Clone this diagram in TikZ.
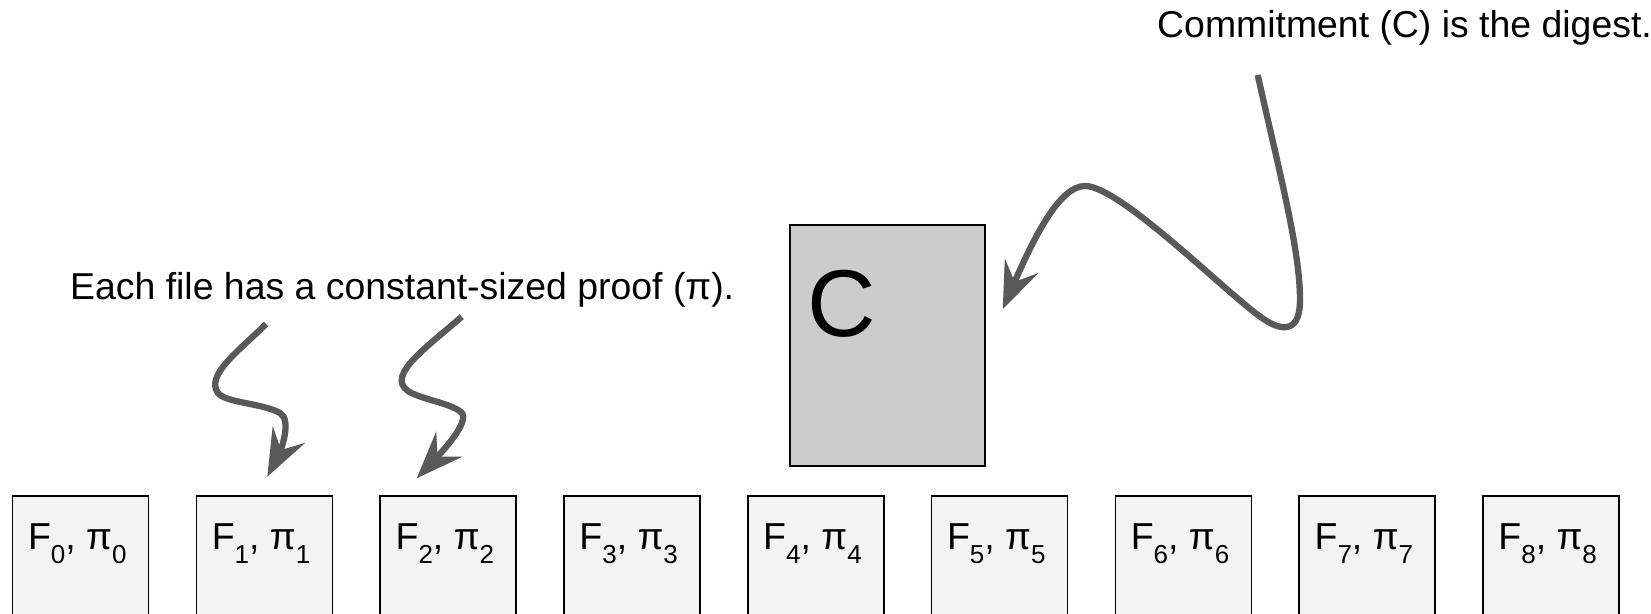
\documentclass[tikz,border=0pt]{standalone}
\usepackage{fontspec}
\setmainfont{Liberation Sans}
\usetikzlibrary{arrows.meta}
\definecolor{arrowgray}{HTML}{595959}
\definecolor{filefill}{HTML}{F3F3F3}
\definecolor{cfill}{HTML}{CCCCCC}
\newcommand\fsub[1]{\raisebox{-14pt}{\fontsize{26}{26}\selectfont #1}}
\newcommand\flab[1]{F\fsub{#1}, π\fsub{#1}}
\begin{document}
\begin{tikzpicture}[x=1pt,y=-1pt,
  filebox/.style={draw=black,line width=1.5pt,fill=filefill,minimum width=136pt,minimum height=170pt,anchor=north west,inner sep=0pt},
  flabel/.style={anchor=base west,inner sep=0pt,font=\fontsize{37.5}{40}\selectfont},
  note/.style={anchor=base west,inner sep=0pt,font=\fontsize{37.4}{40}\selectfont},
  cboxstyle/.style={draw=black,line width=1.5pt,fill=cfill,minimum width=195pt,minimum height=240.7pt,anchor=north west,inner sep=0pt},
  squiggle/.style={draw=arrowgray,line width=6.3pt,-{Stealth[length=47pt,width=36pt,inset=17pt]}}]
\useasboundingbox (0,0) rectangle (1651,613);
\clip (0,0) rectangle (1651,613);
\foreach \i in {0,...,8} {
  \node[filebox] (f\i) at ({11.8+183.8*\i},495) {};
  \node[flabel] (l\i) at ({11.8+183.8*\i+16},549.3) {\flab{\i}};
}
\node[cboxstyle] (cbox) at (789.3,224.3) {};
\node[anchor=base west,inner sep=0pt,font=\fontsize{95}{100}\selectfont] (cletter) at (807,336) {C};
\node[note] (proofnote) at (70,299.3) {Each file has a constant-sized proof (π).};
\node[note] (commitnote) at (1157,37.3) {Commitment (C) is the digest.};
\coordinate (a1s) at (266,324);
\coordinate (a1t) at (267.3,476.7);
\coordinate (a2s) at (461.7,316.7);
\coordinate (a2t) at (416.7,478.3);
\coordinate (a3s) at (1257.7,75);
\coordinate (a3t) at (1002.7,309.3);
\draw[squiggle] (a1s) .. controls (240,350) and (205,375) .. (218,393) .. controls (226,403) and (262,403) .. (280,413) .. controls (292,420) and (281,450) .. (a1t);
\draw[squiggle] (a2s) .. controls (430,345) and (385,375) .. (408,391) .. controls (420,399) and (450,403) .. (461,412) .. controls (472,421) and (438,456) .. (a2t);
\draw[squiggle] (a3s) .. controls (1280,175) and (1300,250) .. (1300,300) .. controls (1300,330) and (1285,334) .. (1262,318) .. controls (1225,292) and (1120,186) .. (1085,186) .. controls (1060,186) and (1035,235) .. (a3t);
\end{tikzpicture}
\end{document}
